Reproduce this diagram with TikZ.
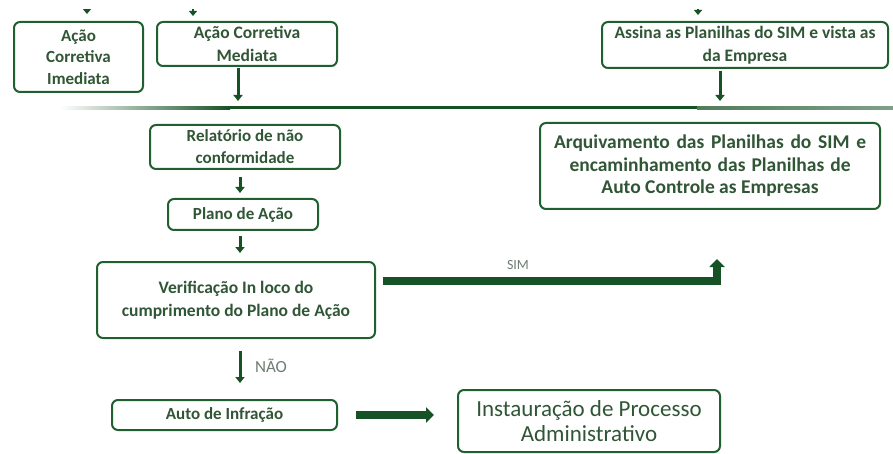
\documentclass[tikz,border=0pt]{standalone}
\usepackage{fontspec}
\setmainfont{Carlito}
\usetikzlibrary{arrows.meta,calc}
\definecolor{tc}{RGB}{48,86,54}
\definecolor{bc}{RGB}{32,96,48}
\definecolor{ac}{RGB}{22,82,38}
\definecolor{lc}{RGB}{110,125,114}
\tikzset{
  box/.style={draw=bc, line width=2pt, rounded corners=6pt, align=center, text=tc, inner sep=0pt, font=\bfseries\fontsize{17}{21.5}\selectfont},
  varr/.style={draw=ac, line width=3pt, -{Triangle[width=9pt,length=6pt]}},
  stub/.style={draw=ac, line width=1.5pt, -{Triangle[width=8pt,length=5pt]}},
  bigarr/.style={draw=ac, line width=7.5pt, -{Triangle[width=15pt,length=8pt]}},
  lbl/.style={text=lc, font=\fontsize{14}{16}\selectfont, inner sep=0pt}
}
\begin{document}
\begin{tikzpicture}[x=1pt,y=-1pt]
\useasboundingbox (0,0) rectangle (893,454);
\fill[white] (0,0) rectangle (893,454);
% horizontal separator
\shade[left color=white, right color=ac] (60,106.5) rectangle (230,109.5);
\fill[ac] (229,106.5) rectangle (697,109.5);
\shade[left color=ac!75, right color=ac!55] (697,106.5) rectangle (893,109.5);
% boxes
\node[box, minimum width=129pt, minimum height=70pt] (b1) at (78.5,57) {Ação\\Corretiva\\Imediata};
\node[box, minimum width=180pt, minimum height=44pt, font=\bfseries\fontsize{17.5}{23}\selectfont] (b2) at (247,44) {Ação Corretiva\\Mediata};
\node[box, minimum width=286pt, minimum height=46pt, font=\bfseries\fontsize{17.5}{23}\selectfont] (b3) at (745,45) {Assina as Planilhas do SIM e vista as\\da Empresa};
\node[box, minimum width=190pt, minimum height=44pt, font=\bfseries\fontsize{17}{22}\selectfont] (b4) at (245,147) {Relatório de não\\conformidade};
\node[box, minimum width=150pt, minimum height=31pt] (b5) at (243,214.5) {Plano de Ação};
\node[box, minimum width=278pt, minimum height=76pt, font=\bfseries\fontsize{17.5}{23}\selectfont] (b6) at (236,300) {Verificação In loco do\\cumprimento do Plano de Ação};
\node[box, minimum width=225pt, minimum height=30pt] (b7) at (224.5,415) {Auto de Infração};
\node[box, minimum width=262pt, minimum height=62pt, font=\fontsize{23}{25}\selectfont] (b8) at (589,421) {Instauração de Processo\\Administrativo};
\node[box, minimum width=340pt, minimum height=86pt, font=\bfseries\fontsize{19.5}{22.5}\selectfont] (b9) at (710,166) {\makebox[312pt][s]{Arquivamento das Planilhas do SIM e}\\\makebox[281pt][s]{encaminhamento das Planilhas de}\\Auto Controle as Empresas};
% coordinates
\coordinate (t1) at (87,4);
\coordinate (t1e) at (87,14);
\coordinate (t2) at (193,4);
\coordinate (t3) at (698,4);
\coordinate (a2s) at (238,68);
\coordinate (a2e) at (238,101);
\coordinate (a3s) at (720,71);
\coordinate (a3e) at (720,101);
\coordinate (simS) at (383,281);
\coordinate (simC) at (717,281);
\coordinate (simE) at (717,259);
% top stubs (cut off by the page edge)
\begin{scope}
\clip (0,10) rectangle (893,30);
\draw[stub] (t1) -- (t1e);
\draw[stub, shorten >=5pt] (t2) -- (b2.north -| t2);
\draw[stub, shorten >=6pt] (t3) -- (b3.north -| t3);
\end{scope}
% arrows
\draw[varr] (a2s) -- (a2e);
\draw[varr] (a3s) -- (a3e);
\draw[varr, shorten <=7pt, shorten >=5pt] (b4.south -| 240,0) -- (b5.north -| 240,0);
\draw[varr, shorten <=5pt, shorten >=8pt] (b5.south -| 240,0) -- (b6.north -| 240,0);
\draw[varr, shorten <=12pt, shorten >=16pt] (b6.south -| 240,0) -- (b7.north -| 240,0);
\draw[draw=ac, line width=7.5pt, line join=miter] (simS) -- (simC) -- ++(0,-6);
\draw[draw=ac, line width=7.5pt, -{Triangle[width=15pt,length=8pt]}] ($(simC)+(0,3.75)$) -- (simE);
\draw[bigarr, shorten <=18pt, shorten >=23pt] (b7.east) -- (b8.west |- b7.east);
% labels
\node[lbl] (sim) at (518,265) {SIM};
\node[lbl, font=\fontsize{17}{19}\selectfont] (nao) at (271,366) {NÃO};
\end{tikzpicture}
\end{document}
